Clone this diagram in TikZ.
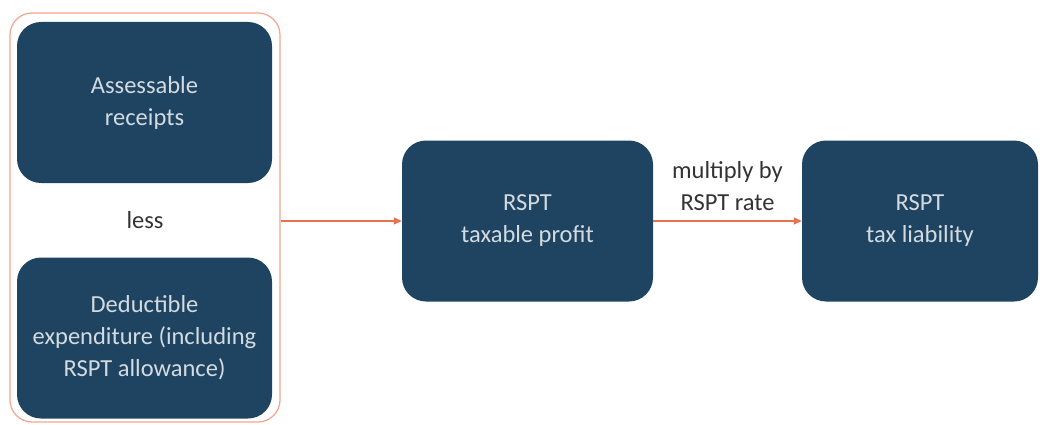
\documentclass[tikz,border=0pt]{standalone}
\usepackage{fontspec}
\setmainfont{Carlito}
\usetikzlibrary{arrows.meta}

\definecolor{boxblue}{HTML}{1E4461}
\definecolor{boxtext}{HTML}{D3DBE0}
\definecolor{linkorange}{HTML}{E9714E}
\definecolor{frameorange}{HTML}{F2A48E}
\definecolor{labelgray}{HTML}{333333}

\begin{document}
\begin{tikzpicture}
  [x=1pt, y=1pt,
   every node/.style={font=\fontsize{24.5}{32}\selectfont, align=center, inner sep=0pt},
   stepbox/.style={fill=boxblue, text=boxtext, rounded corners=24pt,
                   minimum width=251pt, minimum height=161pt},
   link/.style={draw=linkorange, line width=1.4pt, -{Triangle[length=8pt,width=7pt]}}]
  \useasboundingbox (0,0) rectangle (1040,-425);
  % left group
  \node (group) [draw=frameorange, line width=1.2pt, rounded corners=22pt,
         minimum width=270pt, minimum height=409pt] at (145,-217.5) {};
  \node (receipts) [stepbox, minimum width=255pt] at (144.5,-102.5) {Assessable\\receipts};
  \node (less) [text=labelgray] at (145,-220) {less};
  \node (expend) [stepbox, minimum width=255pt] at (144.5,-338) {Deductible\\expenditure (including\\RSPT allowance)};
  % right chain
  \node (profit) [stepbox] at (527.5,-221) {RSPT\\taxable profit};
  \node (liability) [stepbox, minimum width=236pt] at (920,-221) {RSPT\\tax liability};
  \draw [link] (group.east |- profit.west) -- (profit.west);
  \draw [link] (profit.east) -- node [above=10pt, text=labelgray] {multiply by\\RSPT rate} (liability.west);
\end{tikzpicture}
\end{document}
